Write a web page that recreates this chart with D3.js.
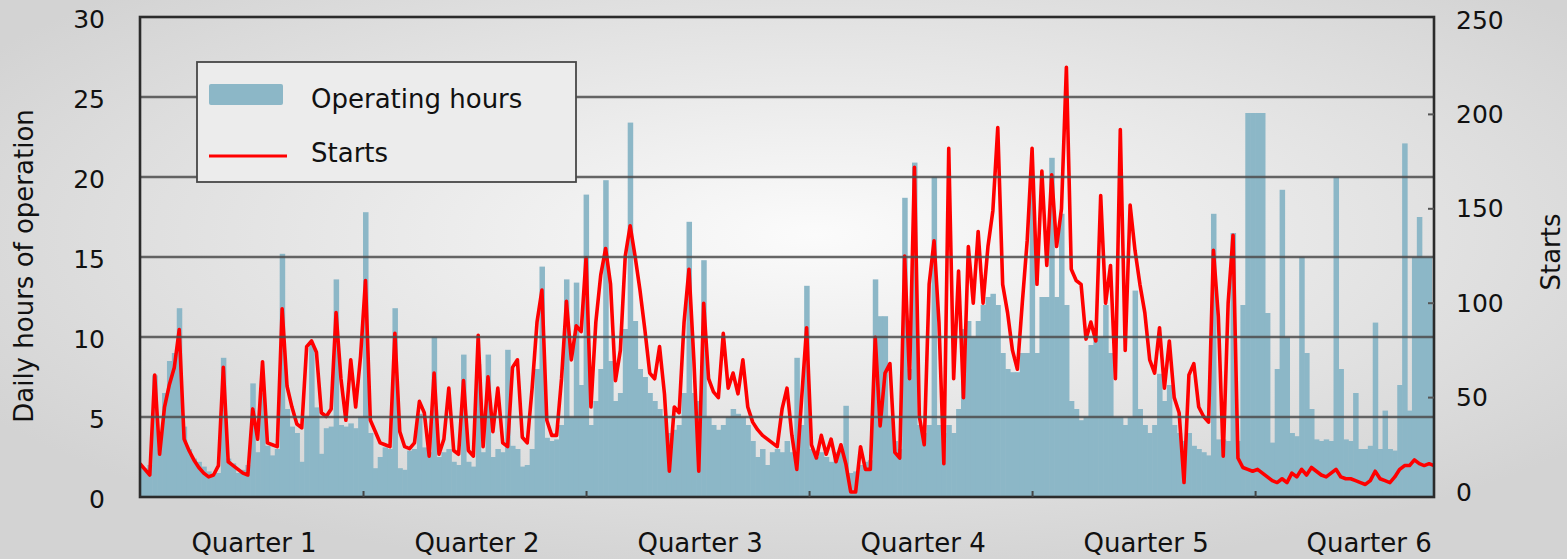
<!DOCTYPE html>
<html><head><meta charset="utf-8">
<script src="https://cdn.jsdelivr.net/npm/d3@7"></script>
<style>
html,body{margin:0;padding:0;background:#e6e6e6;}
svg{display:block;}
text{font-family:"DejaVu Sans",Verdana,sans-serif;fill:#111;}
</style>
</head><body>
<svg id="chart" width="1567" height="559"></svg>
<script>
// ---------- data ----------
const quarters = ["Quarter 1","Quarter 2","Quarter 3","Quarter 4","Quarter 5","Quarter 6"];
const hoursTicks = [0,5,10,15,20,25,30];
const startsTicks = [0,50,100,150,200,250];
const dayStep = 2;        // one value every 2 days
const quarterDays = 91;

// daily hours of operation (left axis)
const hours = [
 2.0,1.8,2.0,7.6,3.0,6.5,8.5,9.0,11.8,4.4,
 3.0,2.4,2.2,1.9,1.6,1.4,1.5,8.7,2.4,2.1,
 1.5,1.7,2.0,7.1,2.8,6.5,3.2,2.6,3.0,15.2,
 5.5,4.4,4.0,2.2,5.0,9.5,5.6,2.7,4.3,4.4,
 13.6,4.5,4.4,4.6,4.3,5.0,17.8,4.0,1.8,2.5,
 3.1,3.0,11.8,1.8,1.7,2.9,3.0,5.2,3.1,2.8,
 10.0,2.5,2.8,3.0,2.2,2.0,8.9,2.2,1.9,8.3,
 2.8,8.9,2.5,3.0,2.8,9.2,3.2,3.0,1.9,2.0,
 3.0,8.0,14.4,3.7,3.5,3.6,4.5,13.6,5.0,13.4,
 7.0,18.9,4.5,6.0,8.0,19.8,8.5,6.0,6.5,10.5,
 23.4,11.0,8.0,7.5,6.5,6.0,5.5,5.0,4.0,4.2,
 4.5,6.5,17.2,6.5,6.0,14.8,5.0,4.5,4.2,4.5,
 5.0,5.5,5.2,5.0,4.5,3.5,2.5,3.0,2.0,2.8,
 3.0,2.8,3.5,2.8,8.7,4.5,13.2,3.0,2.5,2.8,
 2.5,2.2,2.8,3.0,5.7,1.5,1.6,2.0,2.2,2.3,
 13.6,11.3,11.3,5.0,3.5,3.0,18.7,8.0,20.9,4.5,
 4.0,4.5,20.0,4.5,4.0,4.5,4.0,5.5,10.5,11.0,
 10.0,11.0,12.0,12.5,12.7,12.0,9.0,8.0,7.8,7.8,
 9.0,9.0,20.0,9.0,12.5,12.5,21.2,12.5,17.7,12.0,
 6.0,5.5,4.8,5.0,9.5,10.0,10.0,12.0,9.0,5.0,
 5.0,4.5,5.0,12.9,5.5,4.5,4.0,4.5,7.7,6.0,
 7.0,4.5,4.0,3.5,4.0,3.2,3.0,2.8,2.6,17.7,
 3.6,3.6,3.5,16.5,3.5,12.0,24.0,24.0,24.0,24.0,
 11.5,3.4,8.0,19.2,10.0,4.0,3.8,15.0,9.0,5.5,
 3.6,3.5,3.6,3.5,20.0,8.0,3.6,3.5,6.5,3.0,
 3.0,3.2,10.9,3.0,5.4,3.0,2.9,7.0,22.1,5.4,
 15.0,17.5,15.0,15.0,11.7
];

// starts (right axis)
const starts = [
 15,12,9,62,20,45,57,66,86,28,
 22,17,13,10,8,9,14,66,16,14,
 12,10,9,44,28,69,26,25,24,97,
 56,45,36,34,77,80,74,42,40,44,
 95,60,38,70,45,72,112,38,32,26,
 25,24,84,32,24,23,26,48,42,19,
 63,20,28,55,22,20,59,22,19,83,
 24,61,32,55,26,24,66,70,29,26,
 55,90,107,38,30,30,60,101,70,88,
 85,124,45,90,115,129,110,59,75,125,
 141,125,107,86,63,60,77,52,11,45,
 42,90,118,70,11,100,60,53,50,84,
 55,63,52,70,45,37,33,30,28,26,
 24,44,55,30,12,50,87,25,18,30,
 20,28,16,25,15,0,0,24,12,12,
 82,35,63,68,21,18,125,60,172,40,
 25,110,133,90,15,182,60,117,50,130,
 100,138,100,130,149,193,110,95,75,65,
 100,133,182,110,170,120,168,130,150,225,
 118,112,110,81,90,80,157,100,120,60,
 192,75,152,128,110,95,70,63,87,55,
 80,50,42,5,62,68,45,40,37,128,
 93,19,100,136,18,13,12,11,12,10,
 8,6,5,7,5,10,8,12,9,13,
 11,9,8,10,12,8,7,7,6,5,
 4,6,11,7,6,5,8,12,14,14,
 17,15,14,15,14
];

// ---------- chart ----------
const W = 1567, H = 559;
const P = {left:140, right:1434, top:17, bottom:497};
const BLUE = "#8cb7c7", RED = "#ff0000";

const svg = d3.select("#chart");
const defs = svg.append("defs");
const g0 = defs.append("radialGradient").attr("id","bg")
  .attr("cx","52%").attr("cy","42%").attr("r","62%");
g0.append("stop").attr("offset","0%").attr("stop-color","#fbfbfb");
g0.append("stop").attr("offset","100%").attr("stop-color","#d3d3d3");
svg.append("rect").attr("width",W).attr("height",H).attr("fill","url(#bg)");

defs.append("clipPath").attr("id","clip").append("rect")
  .attr("x",P.left).attr("y",P.top).attr("width",P.right-P.left).attr("height",P.bottom-P.top);

const days = hours.map((_,i)=>i*dayStep);
const x = d3.scaleLinear().domain([0, days[days.length-1]]).range([P.left, P.right]);
const yH = d3.scaleLinear().domain([0,30]).range([P.bottom, P.top]);
const yS = d3.scaleLinear().domain([0,250]).range([492, 20]);

const bw = x(dayStep) - x(0);
const plotG = svg.append("g").attr("clip-path","url(#clip)");

// operating hours bars
plotG.append("g").selectAll("rect").data(hours).join("rect")
  .attr("x",(d,i)=>x(days[i]) - bw/2)
  .attr("width", bw + 0.6)
  .attr("y", d=>yH(d))
  .attr("height", d=>yH(0)-yH(d))
  .attr("fill", BLUE);

// gridlines
svg.append("g").selectAll("line").data(hoursTicks.filter(t=>t>0 && t<30)).join("line")
  .attr("x1",P.left).attr("x2",P.right)
  .attr("y1",d=>yH(d)).attr("y2",d=>yH(d))
  .attr("stroke","#4d4d4d").attr("stroke-width",2.4).attr("opacity",0.85);

// starts line
plotG.append("path").datum(starts)
  .attr("fill","none").attr("stroke",RED).attr("stroke-width",3.6)
  .attr("stroke-linejoin","round")
  .attr("d", d3.line().x((d,i)=>x(days[i])).y(d=>yS(d)));

// frame
svg.append("rect").attr("x",P.left).attr("y",P.top)
  .attr("width",P.right-P.left).attr("height",P.bottom-P.top)
  .attr("fill","none").attr("stroke","#2b2b2b").attr("stroke-width",2.6);

// left axis
const la = svg.append("g").attr("transform",`translate(${P.left},2)`)
  .call(d3.axisLeft(yH).tickValues(hoursTicks).tickSize(0).tickPadding(35));
la.select(".domain").remove();
la.selectAll("text").style("font-size","25px").attr("fill","#111");

// right axis
const ra = svg.append("g").attr("transform",`translate(${P.right},0)`)
  .call(d3.axisRight(yS).tickValues(startsTicks).tickSize(0).tickPadding(22));
ra.select(".domain").remove();
ra.selectAll("text").style("font-size","25px").attr("fill","#111");
svg.append("g").selectAll("line").data(startsTicks.filter(t=>t>0&&t<250)).join("line")
  .attr("x1",P.right-6).attr("x2",P.right)
  .attr("y1",d=>yS(d)).attr("y2",d=>yS(d))
  .attr("stroke","#555").attr("stroke-width",2);

// bottom axis: quarter boundary ticks
const qb = d3.range(1,6).map(k=>k*quarterDays);
const ba = svg.append("g").attr("transform",`translate(0,${P.bottom})`)
  .call(d3.axisBottom(x).tickValues(qb).tickSize(-6).tickFormat(""));
ba.select(".domain").remove();
ba.selectAll("line").attr("stroke","#444").attr("stroke-width",2);

// quarter labels
const qm = quarters.map((q,k)=>(k+0.5)*quarterDays);
const qa = svg.append("g").attr("transform",`translate(2,${P.bottom})`)
  .call(d3.axisBottom(x).tickValues(qm).tickSize(0).tickPadding(37)
    .tickFormat((d,i)=>quarters[i]));
qa.select(".domain").remove();
qa.selectAll("text").style("font-size","26px").attr("fill","#111");

// axis titles
svg.append("text").attr("transform","translate(33,266) rotate(-90)")
  .attr("text-anchor","middle").style("font-size","26px").text("Daily hours of operation");
svg.append("text").attr("transform","translate(1560,252) rotate(-90)")
  .attr("text-anchor","middle").style("font-size","26px").text("Starts");

// legend
const lg = svg.append("g");
lg.append("rect").attr("x",197).attr("y",62).attr("width",379).attr("height",120)
  .attr("fill","#ececec").attr("stroke","#474747").attr("stroke-width",1.8);
lg.append("rect").attr("x",209).attr("y",84).attr("width",74).attr("height",21).attr("rx",2)
  .attr("fill",BLUE);
lg.append("line").attr("x1",209).attr("x2",287).attr("y1",156).attr("y2",156)
  .attr("stroke",RED).attr("stroke-width",3);
lg.append("text").attr("x",311).attr("y",108).style("font-size","26px").text("Operating hours");
lg.append("text").attr("x",311).attr("y",162).style("font-size","26px").text("Starts");
</script>
</body></html>
